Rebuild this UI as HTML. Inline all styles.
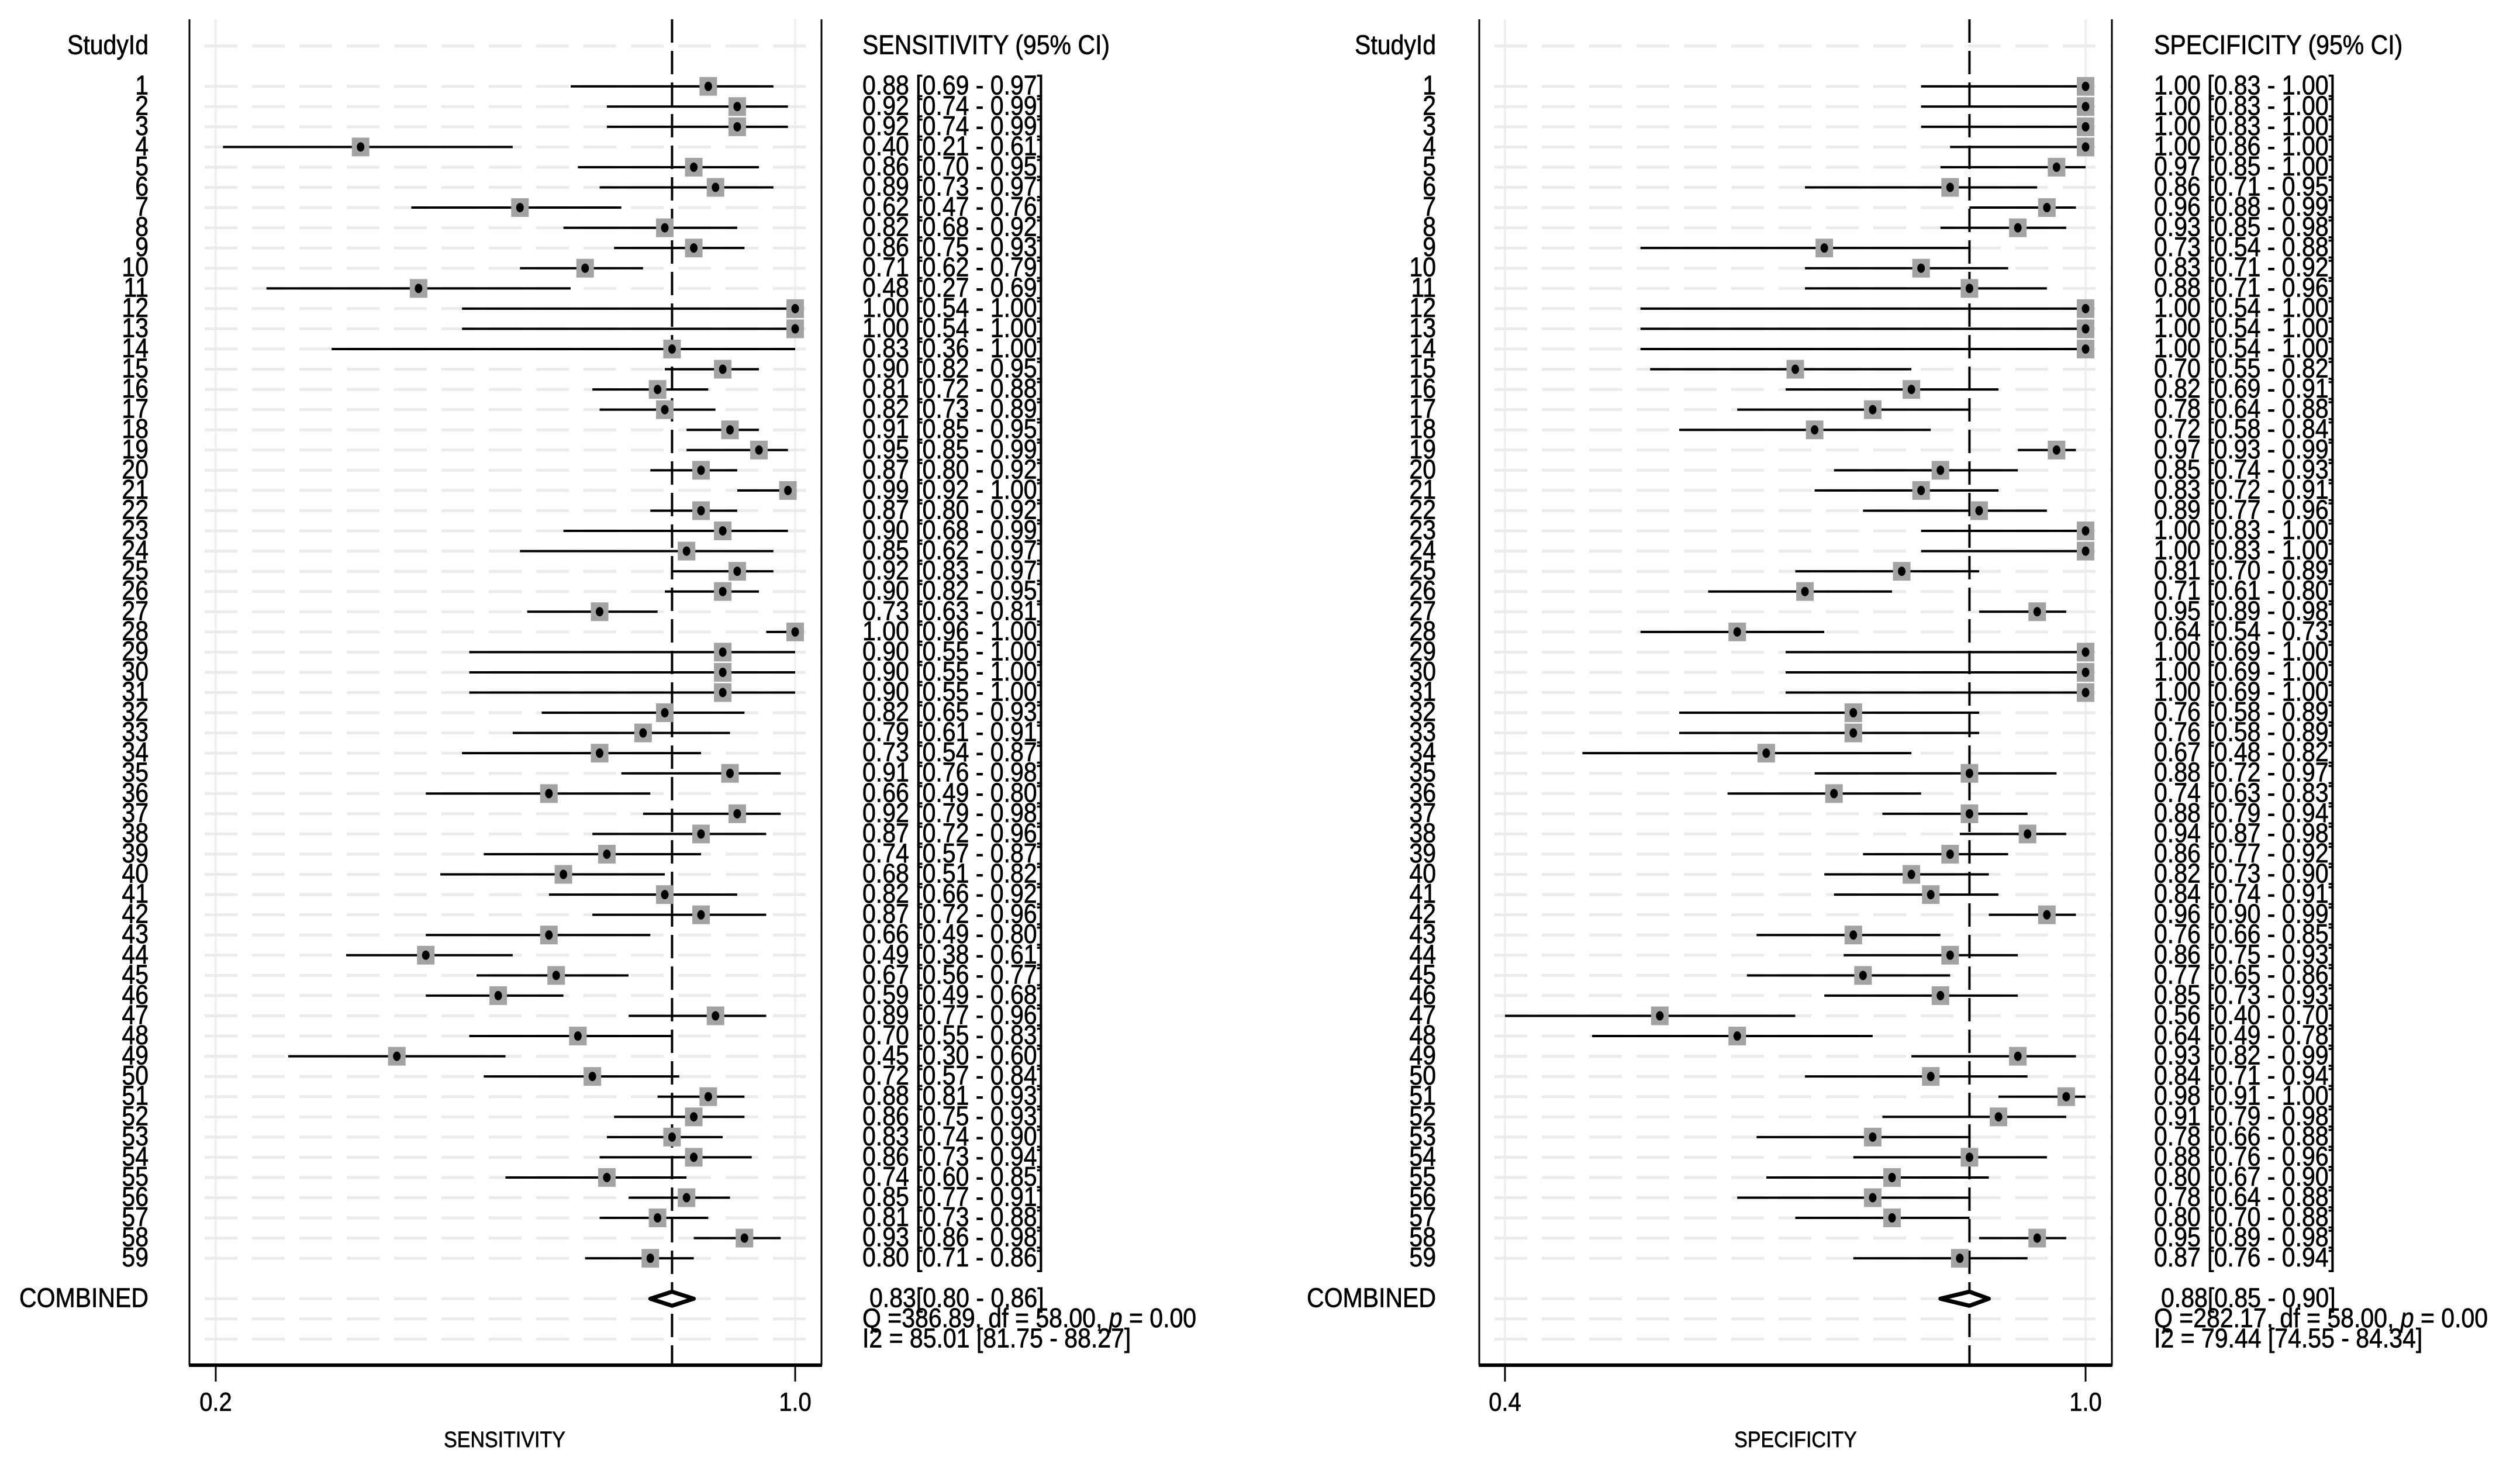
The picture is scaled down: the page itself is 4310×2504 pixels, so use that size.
<!DOCTYPE html>
<html><head><meta charset="utf-8"><style>
html,body{margin:0;padding:0;background:#fff;}
svg{display:block;font-family:"Liberation Sans",sans-serif;}
svg text{stroke:#000;stroke-width:0.7px;}
</style></head><body>
<svg id="chart" width="4310" height="2504" viewBox="0 0 4310 2504" xmlns="http://www.w3.org/2000/svg"></svg>
<script>
const studyIds = Array.from({length:59},(_,i)=>String(i+1));
const sensEst=[0.88,0.92,0.92,0.40,0.86,0.89,0.62,0.82,0.86,0.71,0.48,1.00,1.00,0.83,0.90,0.81,0.82,0.91,0.95,0.87,0.99,0.87,0.90,0.85,0.92,0.90,0.73,1.00,0.90,0.90,0.90,0.82,0.79,0.73,0.91,0.66,0.92,0.87,0.74,0.68,0.82,0.87,0.66,0.49,0.67,0.59,0.89,0.70,0.45,0.72,0.88,0.86,0.83,0.86,0.74,0.85,0.81,0.93,0.80];
const sensLo=[0.69,0.74,0.74,0.21,0.70,0.73,0.47,0.68,0.75,0.62,0.27,0.54,0.54,0.36,0.82,0.72,0.73,0.85,0.85,0.80,0.92,0.80,0.68,0.62,0.83,0.82,0.63,0.96,0.55,0.55,0.55,0.65,0.61,0.54,0.76,0.49,0.79,0.72,0.57,0.51,0.66,0.72,0.49,0.38,0.56,0.49,0.77,0.55,0.30,0.57,0.81,0.75,0.74,0.73,0.60,0.77,0.73,0.86,0.71];
const sensHi=[0.97,0.99,0.99,0.61,0.95,0.97,0.76,0.92,0.93,0.79,0.69,1.00,1.00,1.00,0.95,0.88,0.89,0.95,0.99,0.92,1.00,0.92,0.99,0.97,0.97,0.95,0.81,1.00,1.00,1.00,1.00,0.93,0.91,0.87,0.98,0.80,0.98,0.96,0.87,0.82,0.92,0.96,0.80,0.61,0.77,0.68,0.96,0.83,0.60,0.84,0.93,0.93,0.90,0.94,0.85,0.91,0.88,0.98,0.86];
const specEst=[1.00,1.00,1.00,1.00,0.97,0.86,0.96,0.93,0.73,0.83,0.88,1.00,1.00,1.00,0.70,0.82,0.78,0.72,0.97,0.85,0.83,0.89,1.00,1.00,0.81,0.71,0.95,0.64,1.00,1.00,1.00,0.76,0.76,0.67,0.88,0.74,0.88,0.94,0.86,0.82,0.84,0.96,0.76,0.86,0.77,0.85,0.56,0.64,0.93,0.84,0.98,0.91,0.78,0.88,0.80,0.78,0.80,0.95,0.87];
const specLo=[0.83,0.83,0.83,0.86,0.85,0.71,0.88,0.85,0.54,0.71,0.71,0.54,0.54,0.54,0.55,0.69,0.64,0.58,0.93,0.74,0.72,0.77,0.83,0.83,0.70,0.61,0.89,0.54,0.69,0.69,0.69,0.58,0.58,0.48,0.72,0.63,0.79,0.87,0.77,0.73,0.74,0.90,0.66,0.75,0.65,0.73,0.40,0.49,0.82,0.71,0.91,0.79,0.66,0.76,0.67,0.64,0.70,0.89,0.76];
const specHi=[1.00,1.00,1.00,1.00,1.00,0.95,0.99,0.98,0.88,0.92,0.96,1.00,1.00,1.00,0.82,0.91,0.88,0.84,0.99,0.93,0.91,0.96,1.00,1.00,0.89,0.80,0.98,0.73,1.00,1.00,1.00,0.89,0.89,0.82,0.97,0.83,0.94,0.98,0.92,0.90,0.91,0.99,0.85,0.93,0.86,0.93,0.70,0.78,0.99,0.94,1.00,0.98,0.88,0.96,0.90,0.88,0.88,0.98,0.94];
const sensPooled=[0.83,0.80,0.86];
const specPooled=[0.88,0.85,0.90];
const sensStats=["386.89","58.00","0.00","85.01 [81.75 - 88.27]"];
const specStats=["282.17","58.00","0.00","79.44 [74.55 - 84.34]"];
const sensTicks=[0.2,1.0];
const specTicks=[0.4,1.0];

const NS="http://www.w3.org/2000/svg";
const svg=document.getElementById('chart');
function mk(tag,attrs,parent){const e=document.createElementNS(NS,tag);for(const k in attrs)e.setAttribute(k,attrs[k]);(parent||svg).appendChild(e);return e;}
function rowY(i){return 147.7+i*34.56;}
const f=v=>v.toFixed(2);

function panel(cfg){
  const g=mk('g',{});
  
  
  const xs=v=>cfg.x0+(v-cfg.t0)*(cfg.x1-cfg.x0)/(cfg.t1-cfg.t0);
  const top=33,bot=2335;
  cfg.ticks.forEach(t=>{const l=mk('line',{x1:xs(t),x2:xs(t),y1:top,y2:bot,stroke:'#f0f0f0','stroke-width':4},g);
    });
  const gridRows=[-2];for(let i=0;i<59;i++)gridRows.push(i);gridRows.push(60,61,62);
  gridRows.forEach(r=>{const l=mk('line',{x1:cfg.bl,x2:cfg.br,y1:rowY(r),y2:rowY(r),stroke:'#ebebeb','stroke-width':5,'stroke-dasharray':'56 25','stroke-dashoffset':'-26'},g);
    });
  [cfg.bl,cfg.br].forEach(x=>{const l=mk('line',{x1:x,x2:x,y1:top,y2:bot,stroke:'#000','stroke-width':3},g);
    });
  const ax=mk('line',{x1:cfg.bl-1,x2:cfg.br+1,y1:bot,y2:bot,stroke:'#000','stroke-width':6},g);
  
  cfg.ticks.forEach(t=>{const l=mk('line',{x1:xs(t),x2:xs(t),y1:bot,y2:2363,stroke:'#000','stroke-width':3},g);
    
    const tx=mk('text',{x:xs(t),y:2413,'font-size':40,'text-anchor':'middle'},g);tx.textContent=t.toFixed(1);
    });
  const at=mk('text',{x:cfg.titleX,y:2475,'font-size':34,'text-anchor':'middle'},g);at.textContent=cfg.axisTitle;
  
  const pl=mk('line',{x1:xs(cfg.pooled[0]),x2:xs(cfg.pooled[0]),y1:top,y2:bot,stroke:'#000','stroke-width':4,'stroke-dasharray':'40 14'},g);
  
  const sh=mk('text',{x:cfg.idX,y:rowY(-2)+14,'font-size':41,'text-anchor':'end'},g);sh.textContent='StudyId';
  
  const vh=mk('text',{x:cfg.valX,y:rowY(-2)+14,'font-size':41},g);vh.textContent=cfg.header;
  
  for(let i=0;i<59;i++){
    const y=rowY(i);
    const id=mk('text',{x:cfg.idX,y:y+14,'font-size':41,'text-anchor':'end'},g);id.textContent=studyIds[i];
    
    const ci=mk('line',{x1:xs(cfg.lo[i]),x2:xs(cfg.hi[i]),y1:y,y2:y,stroke:'#000','stroke-width':4},g);
    
    const sq=mk('rect',{x:xs(cfg.est[i])-15,y:y-16,width:30,height:32,fill:'#a3a3a3'},g);
    
    const dt=mk('ellipse',{cx:xs(cfg.est[i]),cy:y,rx:6.5,ry:8,fill:'#000'},g);
    
    const vt=mk('text',{x:cfg.valX,y:y+14,'font-size':41},g);
    vt.textContent=f(cfg.est[i])+' ['+f(cfg.lo[i])+' - '+f(cfg.hi[i])+']';
    
  }
  const yc=rowY(60);
  const cl=mk('text',{x:cfg.idX,y:yc+14,'font-size':41,'text-anchor':'end'},g);cl.textContent='COMBINED';
  
  const p=cfg.pooled;
  const dm=mk('polygon',{points:`${xs(p[1])},${yc} ${xs(p[0])},${yc-12} ${xs(p[2])},${yc} ${xs(p[0])},${yc+12}`,fill:'#fff',stroke:'#000','stroke-width':7,'stroke-linejoin':'round'},g);
  
  const ct=mk('text',{x:cfg.valX+12,y:yc+14,'font-size':41},g);ct.textContent=f(p[0])+'['+f(p[1])+' - '+f(p[2])+']';
  
  const q=mk('text',{x:cfg.valX,y:rowY(61)+14,'font-size':41},g);
  q.appendChild(document.createTextNode('Q ='+cfg.stats[0]+', df = '+cfg.stats[1]+', '));
  const it=mk('tspan',{'font-style':'italic'},q);it.textContent='p';
  q.appendChild(document.createTextNode(' =  '+cfg.stats[2]));
  
  const i2=mk('text',{x:cfg.valX,y:rowY(62)+14,'font-size':41},g);i2.textContent='I2 = '+cfg.stats[3];
  
}
panel({name:'sensitivity',x0:369,x1:1360,t0:0.2,t1:1.0,bl:324,br:1405,idX:254,valX:1475,titleX:863,ticks:sensTicks,
  est:sensEst,lo:sensLo,hi:sensHi,pooled:sensPooled,stats:sensStats,header:'SENSITIVITY (95% CI)',axisTitle:'SENSITIVITY'});
panel({name:'specificity',x0:2574,x1:3567,t0:0.4,t1:1.0,bl:2530,br:3612,idX:2456,valX:3684,titleX:3071,ticks:specTicks,
  est:specEst,lo:specLo,hi:specHi,pooled:specPooled,stats:specStats,header:'SPECIFICITY (95% CI)',axisTitle:'SPECIFICITY'});
// condensed, taller glyphs like the reference: enlarge font but keep measured width
document.querySelectorAll('#chart text').forEach(t=>{
  const w=t.getComputedTextLength();
  const fs=parseFloat(t.getAttribute('font-size'));
  t.setAttribute('font-size',(fs*1.12).toFixed(1));
  t.setAttribute('textLength',w.toFixed(1));
  t.setAttribute('lengthAdjust','spacingAndGlyphs');
});
</script>
</body></html>
